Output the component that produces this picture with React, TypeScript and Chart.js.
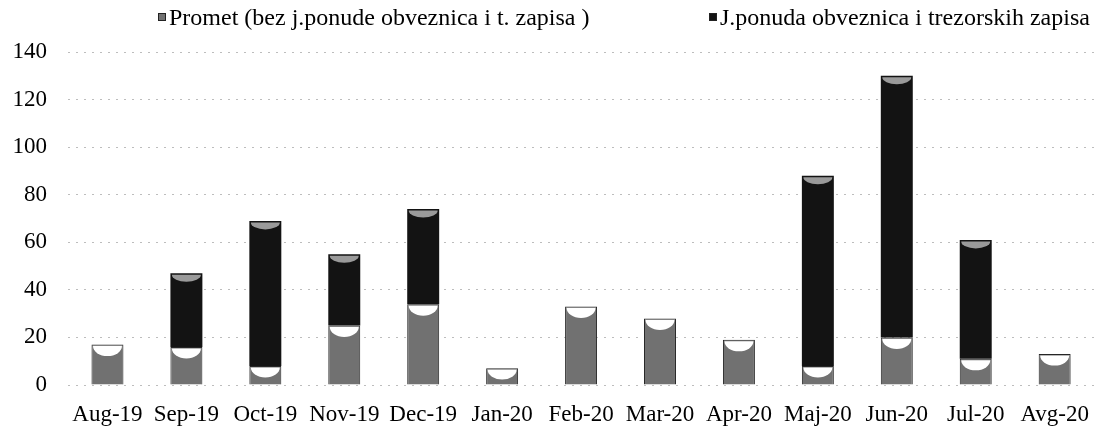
import { useEffect, useRef } from 'react';
import { Chart, registerables } from 'chart.js';

Chart.register(...registerables);

const categories = ['Aug-19', 'Sep-19', 'Oct-19', 'Nov-19', 'Dec-19', 'Jan-20', 'Feb-20', 'Mar-20', 'Apr-20', 'Maj-20', 'Jun-20', 'Jul-20', 'Avg-20'];
const prometValues = [17, 16, 8, 25, 34, 7, 33, 28, 19, 8, 20, 11, 13];
const ponudaValues = [0, 31, 61, 30, 40, 0, 0, 0, 0, 80, 110, 50, 0];
const seriesLabels = ['Promet (bez j.ponude obveznica i t. zapisa )', 'J.ponuda obveznica i trezorskih zapisa'];
const yMax = 140;
const yStep = 20;

const FONT = '"Liberation Serif", "Times New Roman", serif';

const capPlugin = {
  id: 'cylinderCaps',
  afterDatasetsDraw(chart: any) {
    const ctx = chart.ctx;
    chart.data.datasets.forEach((ds: any, di: number) => {
      const meta = chart.getDatasetMeta(di);
      meta.data.forEach((el: any, i: number) => {
        const v = ds.data[i];
        if (!v) return;
        const { x, y, base, width } = el.getProps(['x', 'y', 'base', 'width'], true);
        const h = Math.abs(base - y);
        const depth = Math.min(di === 0 ? 10 : 7, h * 0.6);
        ctx.save();
        ctx.beginPath();
        ctx.ellipse(x, y + 1.5, width / 2 - 1.5, depth, 0, 0, Math.PI);
        ctx.closePath();
        ctx.fillStyle = di === 0 ? '#ffffff' : '#9a9a9a';
        ctx.fill();
        ctx.restore();
      });
    });
  },
};

const legendPlugin = {
  id: 'scanLegend',
  afterDraw(chart: any, _args: any, opts: any) {
    const ctx = chart.ctx;
    ctx.save();
    ctx.font = `${opts.fontSize}px ${FONT}`;
    ctx.textBaseline = 'alphabetic';
    ctx.textAlign = 'left';
    chart.data.datasets.forEach((ds: any, i: number) => {
      const bx = opts.boxX[i];
      ctx.fillStyle = opts.boxColors[i];
      ctx.fillRect(bx, opts.boxTop, opts.boxSize, opts.boxSize);
      ctx.strokeStyle = '#222';
      ctx.lineWidth = 1;
      ctx.strokeRect(bx + 0.5, opts.boxTop + 0.5, opts.boxSize - 1, opts.boxSize - 1);
      ctx.fillStyle = '#000';
      ctx.fillText(ds.label, bx + opts.boxSize + opts.gap, opts.baseline);
    });
    ctx.restore();
  },
};

export default function App() {
  const canvasRef = useRef<HTMLCanvasElement | null>(null);

  useEffect(() => {
    if (!canvasRef.current) return;
    const chart = new Chart(canvasRef.current, {
      type: 'bar',
      data: {
        labels: categories,
        datasets: [
          {
            label: seriesLabels[0],
            data: prometValues,
            backgroundColor: '#717171',
            borderColor: '#262626',
            borderWidth: 1,
            barPercentage: 0.405,
            categoryPercentage: 1,
          },
          {
            label: seriesLabels[1],
            data: ponudaValues,
            backgroundColor: '#131313',
            borderWidth: 0,
            barPercentage: 0.405,
            categoryPercentage: 1,
          },
        ],
      },
      options: {
        animation: false,
        responsive: true,
        maintainAspectRatio: false,
        layout: { padding: { top: 52, right: 1.5, left: 8, bottom: 0 } },
        scales: {
          x: {
            stacked: true,
            grid: { display: false },
            border: { display: false },
            ticks: {
              color: '#000',
              font: { family: FONT, size: 23 },
              padding: 8,
              maxRotation: 0,
              autoSkip: false,
            },
            afterFit: (scale: any) => {
              scale.height = 42;
            },
          },
          y: {
            stacked: true,
            min: 0,
            max: yMax,
            ticks: {
              stepSize: yStep,
              color: '#000',
              font: { family: FONT, size: 23 },
              padding: 21,
            },
            grid: { color: '#bdbdbd', lineWidth: 1, drawTicks: false },
            border: { display: false, dash: [2, 6] },
            afterFit: (scale: any) => {
              scale.width = 60;
            },
          },
        },
        plugins: {
          legend: { display: false },
          tooltip: { enabled: false },
          scanLegend: {
            fontSize: 24,
            boxX: [158, 709],
            boxTop: 13,
            boxSize: 8,
            gap: 3,
            baseline: 25,
            boxColors: ['#717171', '#131313'],
          },
        } as any,
      },
      plugins: [capPlugin, legendPlugin],
    });
    return () => chart.destroy();
  }, []);

  return (
    <div style={{ position: 'absolute', left: 0, top: 0, width: 1097, height: 427 }}>
      <canvas ref={canvasRef} />
    </div>
  );
}
